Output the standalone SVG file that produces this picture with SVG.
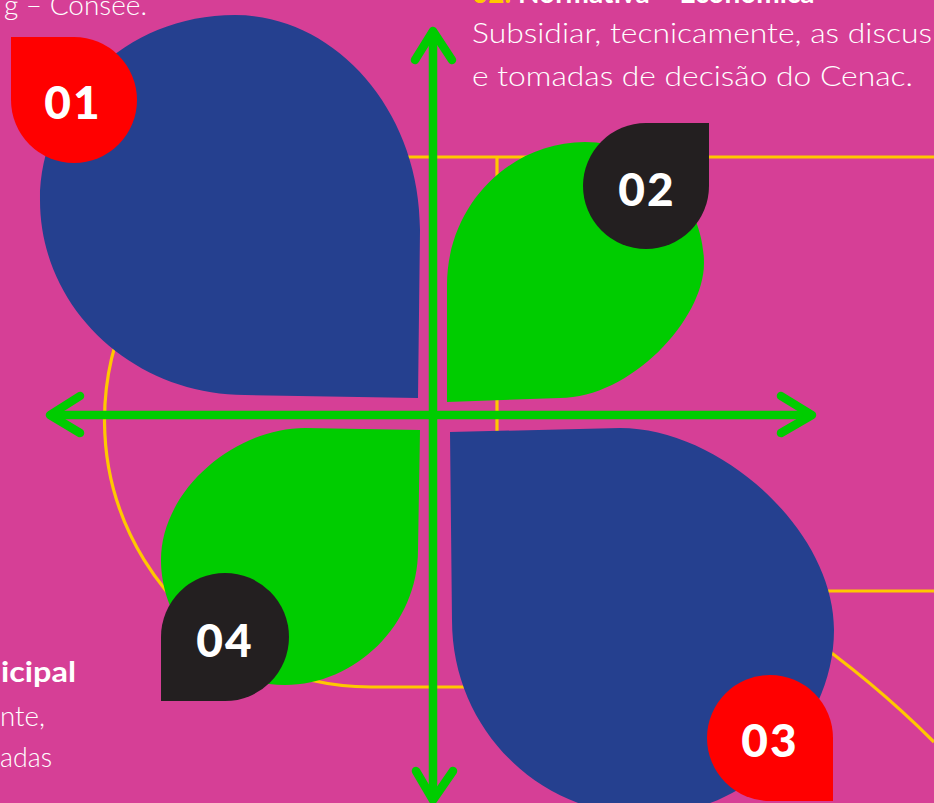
<svg xmlns="http://www.w3.org/2000/svg" width="934" height="803" viewBox="0 0 934 803">
<style>
.bg{fill:#D63F96}
.yl{fill:none;stroke:#FFC800;stroke-width:3.2}
.blue{fill:#25408F}
.green{fill:#00CC00}
.red{fill:#FF0000}
.blk{fill:#231F20}
.ax{fill:none;stroke:#00CC00;stroke-width:8.5;stroke-linecap:round;stroke-linejoin:round}
.num{font-family:Lato,"Noto Sans","Liberation Sans",sans-serif;font-weight:900;font-size:46px;fill:#FFFFFF;text-anchor:middle;letter-spacing:2px}
.body{font-family:Lato,"Noto Sans","Liberation Sans",sans-serif;font-weight:300;font-size:28px;fill:#FFFFFF}
.bold{font-family:Lato,"Noto Sans","Liberation Sans",sans-serif;font-weight:700;font-size:28px;fill:#FFFFFF}
</style>
<rect class="bg" x="0" y="0" width="934" height="803"/>
<g id="guides">
<path class="yl" d="M380,157 L934,157"/>
<path class="yl" d="M497,157 L497,690"/>
<path class="yl" d="M133,300 A267,267 0 0 0 371,687 L480,687"/>
<path class="yl" d="M790,591 L934,591"/>
<path class="yl" d="M800,630 Q873,681 934,742"/>
</g>
<g id="texts">
<text class="body" x="147" y="15" text-anchor="end" font-size="30">g – Consee.</text>
<text class="bold" x="472" y="3"><tspan fill="#FFC800">02.</tspan> Normativa – Econômica</text>
<text class="body" x="472" y="43" textLength="460" lengthAdjust="spacingAndGlyphs">Subsidiar, tecnicamente, as discus</text>
<text class="body" x="472" y="86" textLength="441" lengthAdjust="spacingAndGlyphs">e tomadas de decisão do Cenac.</text>
<text class="bold" x="1" y="682" font-size="30" textLength="75" lengthAdjust="spacingAndGlyphs">icipal</text>
<text class="body" x="0" y="726" textLength="45" lengthAdjust="spacingAndGlyphs">nte,</text>
<text class="body" x="0" y="767" textLength="52" lengthAdjust="spacingAndGlyphs">adas</text>
</g>
<g id="leaf01"><path class="blue" d="M418,398 L420,230 C420,110 335,15 235,15 C125,15 40,100 40,200 C40,310 135,395 245,395 Z"/></g>
<g id="leaf02"><path class="green" d="M447,402 L447,285 C447,205 510,142 585,142 C650,142 704,200 704,263 C704,320 630,398 560,398 Z"/></g>
<g id="leaf03"><path class="blue" d="M450,432 L452,620 C452,730 540,815 645,815 C750,815 834,725 834,630 C834,530 720,428 620,428 Z"/></g>
<g id="leaf04"><path class="green" d="M420,430 L418,550 C418,625 355,685 285,685 C215,685 161,625 161,560 C161,490 235,428 305,428 Z"/></g>
<g id="axes">
<path class="ax" d="M433,32 L433,799"/>
<path class="ax" d="M415,60 L433,31 L452,60"/>
<path class="ax" d="M416,771 L433,800 L453,771"/>
<path class="ax" d="M51,415 L811,415"/>
<path class="ax" d="M80,396 L50,415 L80,433"/>
<path class="ax" d="M781,396 L812,415 L781,433"/>
</g>
<g id="badge01"><path class="red" d="M11,37 L74,37 A63,63 0 1 1 11,100 Z"/><text class="num" x="73" y="119">01</text></g>
<g id="badge02"><path class="blk" d="M709,123 L709,186 A63,63 0 1 1 646,123 Z"/><text class="num" x="647" y="206">02</text></g>
<g id="badge03"><path class="red" d="M833,801 L770,801 A63,63 0 1 1 833,738 Z"/><text class="num" x="770" y="757">03</text></g>
<g id="badge04"><path class="blk" d="M161,701 L161,637 A64,64 0 1 1 225,701 Z"/><text class="num" x="225" y="657">04</text></g>
</svg>
